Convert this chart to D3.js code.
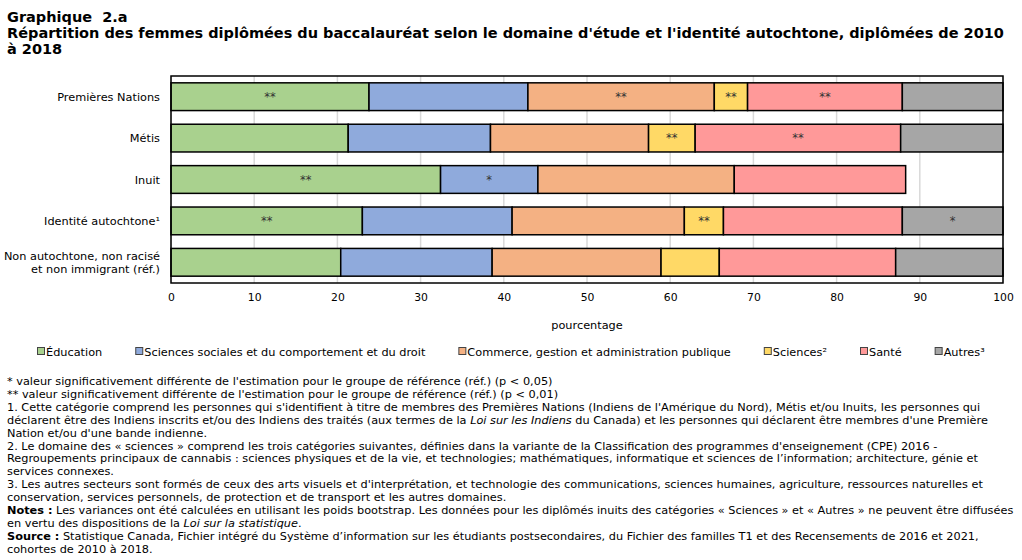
<!DOCTYPE html>
<head>
<meta charset="utf-8">
<style>
  body { margin: 0; background: #fff; }
  svg { font-family: "DejaVu Sans", Verdana, sans-serif; }
  .grid line { stroke: #d9d9d9; stroke-width: 1.5; }
  .seg { stroke: #000; stroke-width: 1.5; }
</style>
</head>
<body>
<script src="https://cdn.jsdelivr.net/npm/d3@7"></script>
<script>
(function() {
	// categories, top to bottom
	var categories = [
		"Premières Nations",
		"Métis",
		"Inuit",
		"Identité autochtone¹",
		"Non autochtone, non racisé|et non immigrant (réf.)"
	];

	var seriesNames = [
		"Éducation",
		"Sciences sociales et du comportement et du droit",
		"Commerce, gestion et administration publique",
		"Sciences²",
		"Santé",
		"Autres³"
	];

	var seriesColors = ["#a9d18e", "#8faadc", "#f4b183", "#ffd966", "#ff9999", "#a6a6a6"];

	// percent, one array per series, in category order (null = suppressed)
	var education   = [23.8, 21.3, 32.4, 23.0, 20.4];
	var socialSci   = [19.1, 17.1, 11.7, 18.0, 18.2];
	var commerce    = [22.4, 19.0, 23.6, 20.7, 20.3];
	var sciences    = [ 4.0,  5.6, null,  4.7,  7.0];
	var health      = [18.6, 24.7, 20.6, 21.5, 21.2];
	var others      = [12.1, 12.3, null, 12.1, 12.9];

	// significance markers, same layout
	var sigEducation = ["**", "",   "**", "**", ""];
	var sigSocialSci = ["",   "",   "*",  "",   ""];
	var sigCommerce  = ["**", "",   "",   "",   ""];
	var sigSciences  = ["**", "**", "",   "**", ""];
	var sigHealth    = ["**", "**", "",   "",   ""];
	var sigOthers    = ["",   "",   "",   "*",  ""];

	var xTicks = [0, 10, 20, 30, 40, 50, 60, 70, 80, 90, 100];

	var titleLines = [
		"Graphique\u00a0 2.a",
		"Répartition des femmes diplômées du baccalauréat selon le domaine d'étude et l'identité autochtone, diplômées de 2010",
		"à 2018"
	];

	// footnotes: each line is a list of [text, style]
	var notes = [
		[["* valeur significativement différente de l'estimation pour le groupe de référence (réf.) (p < 0,05)", ""]],
		[["** valeur significativement différente de l'estimation pour le groupe de référence (réf.) (p < 0,01)", ""]],
		[["1. Cette catégorie comprend les personnes qui s'identifient à titre de membres des Premières Nations (Indiens de l'Amérique du Nord), Métis et/ou Inuits, les personnes qui", ""]],
		[["déclarent être des Indiens inscrits et/ou des Indiens des traités (aux termes de la ", ""], ["Loi sur les Indiens", "i"], [" du Canada) et les personnes qui déclarent être membres d'une Première", ""]],
		[["Nation et/ou d'une bande indienne.", ""]],
		[["2. Le domaine des « sciences » comprend les trois catégories suivantes, définies dans la variante de la Classification des programmes d'enseignement (CPE) 2016 -", ""]],
		[["Regroupements principaux de cannabis : sciences physiques et de la vie, et technologies; mathématiques, informatique et sciences de l’information; architecture, génie et", ""]],
		[["services connexes.", ""]],
		[["3. Les autres secteurs sont formés de ceux des arts visuels et d'interprétation, et technologie des communications, sciences humaines, agriculture, ressources naturelles et", ""]],
		[["conservation, services personnels, de protection et de transport et les autres domaines.", ""]],
		[["Notes :", "b"], [" Les variances ont été calculées en utilisant les poids bootstrap. Les données pour les diplômés inuits des catégories « Sciences » et « Autres » ne peuvent être diffusées", ""]],
		[["en vertu des dispositions de la ", ""], ["Loi sur la statistique", "i"], [".", ""]],
		[["Source :", "b"], [" Statistique Canada, Fichier intégré du Système d’information sur les étudiants postsecondaires, du Fichier des familles T1 et des Recensements de 2016 et 2021,", ""]],
		[["cohortes de 2010 à 2018.", ""]]
	];

	var values = [education, socialSci, commerce, sciences, health, others];
	var sigs = [sigEducation, sigSocialSci, sigCommerce, sigSciences, sigHealth, sigOthers];

	var W = 1022, H = 560,
		plot = {left: 171, right: 1003, top: 76, bottom: 283},
		fs = 11.3;

	var svg = d3.select("body").append("svg")
		.attr("width", W)
		.attr("height", H);

	// title
	svg.append("g").selectAll("text")
		.data(titleLines)
		.enter().append("text")
		.attr("x", 7)
		.attr("y", function(d, i) { return 22 + i * 16; })
		.attr("font-size", 14.5)
		.attr("font-weight", "bold")
		.attr("fill", "#000")
		.text(function(d) { return d; });

	var x = d3.scaleLinear()
		.domain([0, 100])
		.range([plot.left, plot.right]);

	var y = d3.scaleBand()
		.domain(d3.range(categories.length))
		.range([plot.top, plot.bottom])
		.paddingInner(0.33)
		.paddingOuter(0.165);

	// grid
	svg.append("g").attr("class", "grid")
		.selectAll("line")
		.data(xTicks)
		.enter().append("line")
		.attr("x1", function(d) { return x(d); })
		.attr("x2", function(d) { return x(d); })
		.attr("y1", plot.top)
		.attr("y2", plot.bottom);

	// stacked segments
	var segs = [];
	categories.forEach(function(c, ci) {
		var acc = 0;
		values.forEach(function(s, si) {
			var v = s[ci];
			if (v == null) return;
			segs.push({ci: ci, si: si, x0: acc, x1: acc + v, sig: sigs[si][ci]});
			acc += v;
		});
	});

	var gBars = svg.append("g");
	gBars.selectAll("rect")
		.data(segs)
		.enter().append("rect")
		.attr("class", "seg")
		.attr("x", function(d) { return x(d.x0); })
		.attr("width", function(d) { return x(d.x1) - x(d.x0); })
		.attr("y", function(d) { return y(d.ci); })
		.attr("height", y.bandwidth())
		.attr("fill", function(d) { return seriesColors[d.si]; });

	gBars.selectAll("text")
		.data(segs.filter(function(d) { return d.sig; }))
		.enter().append("text")
		.attr("x", function(d) { return x((d.x0 + d.x1) / 2); })
		.attr("y", function(d) { return y(d.ci) + y.bandwidth() / 2 + 4; })
		.attr("text-anchor", "middle")
		.attr("font-size", 11.5)
		.attr("fill", "#333")
		.text(function(d) { return d.sig; });

	// plot frame
	svg.append("rect")
		.attr("x", plot.left)
		.attr("y", plot.top)
		.attr("width", plot.right - plot.left)
		.attr("height", plot.bottom - plot.top)
		.attr("fill", "none")
		.attr("stroke", "#000")
		.attr("stroke-width", 1.5);

	// x axis labels
	var xAxis = d3.axisBottom(x)
		.tickValues(xTicks)
		.tickSize(0)
		.tickPadding(10);
	var gx = svg.append("g")
		.attr("transform", "translate(0," + plot.bottom + ")")
		.call(xAxis);
	gx.select(".domain").remove();
	gx.selectAll("text")
		.attr("font-family", "DejaVu Sans, Verdana, sans-serif")
		.attr("font-size", 10.8)
		.attr("fill", "#000");

	svg.append("text")
		.attr("x", (plot.left + plot.right) / 2)
		.attr("y", 329)
		.attr("text-anchor", "middle")
		.attr("font-size", fs)
		.text("pourcentage");

	// category labels
	var gy = svg.append("g");
	categories.forEach(function(c, ci) {
		var parts = c.split("|");
		var cy = y(ci) + y.bandwidth() / 2;
		var t = gy.append("text")
			.attr("x", 160)
			.attr("text-anchor", "end")
			.attr("font-size", fs)
			.attr("fill", "#000");
		parts.forEach(function(p, pi) {
			t.append("tspan")
				.attr("x", 160)
				.attr("y", cy + 4 + (pi - (parts.length - 1) / 2) * 12.5)
				.text(p);
		});
	});

	// legend
	var gl = svg.append("g").attr("transform", "translate(0,352)");
	var lx = 37;
	seriesNames.forEach(function(n, i) {
		var item = gl.append("g").attr("transform", "translate(" + lx + ",0)");
		item.append("rect")
			.attr("x", 0.5).attr("y", -4.5)
			.attr("width", 7).attr("height", 7)
			.attr("fill", seriesColors[i])
			.attr("stroke", "#444")
			.attr("stroke-width", 1);
		var t = item.append("text")
			.attr("x", 9)
			.attr("y", 4)
			.attr("font-size", fs)
			.text(n);
		lx += 9 + t.node().getComputedTextLength() + 33;
	});

	// footnotes
	var gn = svg.append("g");
	notes.forEach(function(line, li) {
		var t = gn.append("text")
			.attr("x", 7)
			.attr("y", 385 + li * 12.9)
			.attr("font-size", fs)
			.attr("fill", "#000");
		line.forEach(function(seg) {
			var ts = t.append("tspan").text(seg[0]);
			if (seg[1] === "i") ts.attr("font-style", "italic");
			if (seg[1] === "b") ts.attr("font-weight", "bold");
		});
	});
})();
</script>
</body>
